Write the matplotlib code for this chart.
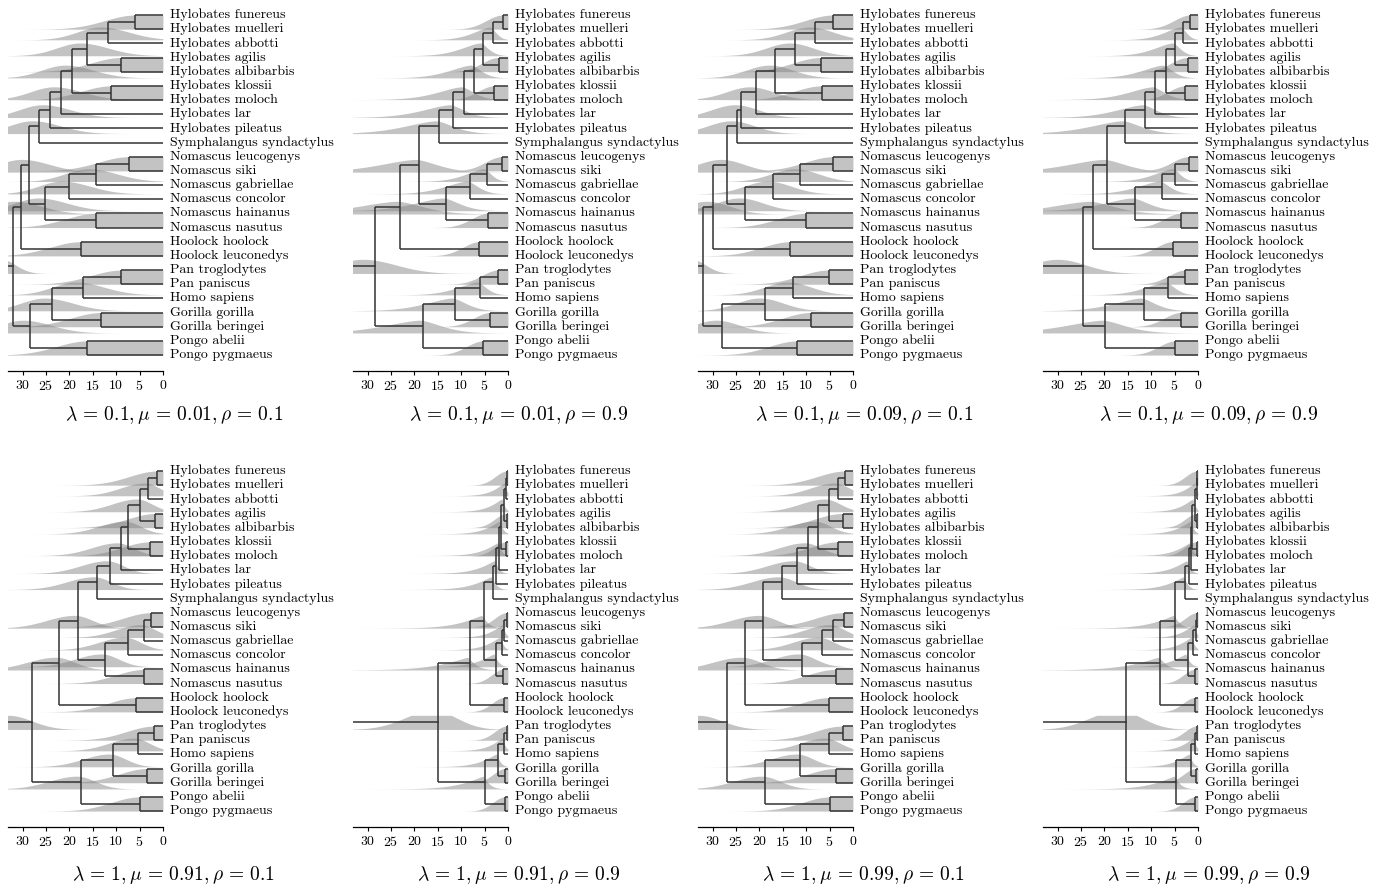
import numpy as np
import matplotlib
matplotlib.use("Agg")
import matplotlib.pyplot as plt

plt.rcParams['font.family'] = ['cmr10', 'DejaVu Serif']
plt.rcParams['mathtext.fontset'] = 'cm'
plt.rcParams['axes.formatter.use_mathtext'] = True

# tip labels, top to bottom
tips = ['Hylobates funereus', 'Hylobates muelleri', 'Hylobates abbotti', 'Hylobates agilis',
        'Hylobates albibarbis', 'Hylobates klossii', 'Hylobates moloch', 'Hylobates lar',
        'Hylobates pileatus', 'Symphalangus syndactylus', 'Nomascus leucogenys', 'Nomascus siki',
        'Nomascus gabriellae', 'Nomascus concolor', 'Nomascus hainanus', 'Nomascus nasutus',
        'Hoolock hoolock', 'Hoolock leuconedys', 'Pan troglodytes', 'Pan paniscus',
        'Homo sapiens', 'Gorilla gorilla', 'Gorilla beringei', 'Pongo abelii', 'Pongo pygmaeus']

# internal nodes (children are tip indices or node names)
nodes = [('A', 0, 1), ('B', 'A', 2), ('C', 3, 4), ('D', 'B', 'C'), ('E', 5, 6),
         ('F', 'D', 'E'), ('G', 'F', 7), ('H', 'G', 8), ('I', 'H', 9),
         ('J', 10, 11), ('K', 'J', 12), ('L', 'K', 13), ('M', 14, 15), ('N', 'L', 'M'),
         ('Q', 'I', 'N'), ('O', 16, 17), ('R', 'Q', 'O'),
         ('Pan', 18, 19), ('PanHomo', 'Pan', 20), ('Gor', 21, 22), ('HG', 'PanHomo', 'Gor'),
         ('Pongo', 23, 24), ('GA', 'HG', 'Pongo'), ('root', 'R', 'GA')]

# node ages (Myr) per panel, same order as nodes
ages_1 = [5.9, 11.8, 8.9, 16.2, 11.0, 19.4, 21.8, 24.2, 26.4, 7.3, 14.4, 20.1, 14.3, 25.1,
          28.7, 17.6, 30.3, 8.9, 17.1, 13.2, 23.8, 16.2, 28.4, 32.1]
ages_2 = [1.1, 3.2, 2.0, 5.3, 2.9, 7.3, 9.3, 11.8, 14.8, 1.3, 4.5, 8.1, 4.3, 13.2,
          19.1, 6.1, 23.0, 2.1, 5.9, 3.8, 11.3, 5.3, 18.2, 28.4]
ages_3 = [4.2, 8.0, 6.8, 12.3, 6.6, 16.6, 20.8, 24.0, 24.8, 4.2, 11.2, 17.0, 10.0, 23.0,
          27.0, 13.4, 30.0, 5.2, 12.7, 9.0, 18.7, 11.9, 28.0, 32.0]
ages_4 = [1.6, 3.1, 2.2, 4.8, 2.7, 6.9, 9.1, 11.2, 15.5, 2.0, 4.8, 7.6, 3.7, 13.4,
          19.5, 5.4, 22.5, 2.7, 6.3, 3.7, 11.6, 4.8, 19.8, 24.5]
ages_5 = [1.2, 3.1, 1.6, 4.8, 2.7, 7.4, 9.0, 11.2, 14.0, 2.5, 4.0, 7.4, 4.0, 12.3,
          18.1, 5.7, 22.1, 1.8, 5.4, 3.4, 10.7, 5.0, 17.6, 28.0]
ages_6 = [0.2, 0.4, 0.3, 0.9, 0.4, 1.4, 1.8, 2.5, 3.2, 0.3, 0.8, 1.3, 1.0, 2.6,
          5.2, 0.9, 8.2, 0.3, 0.8, 0.6, 2.1, 0.7, 4.9, 15.0]
ages_7 = [1.6, 3.1, 2.2, 5.2, 3.1, 7.4, 9.5, 11.9, 15.1, 2.0, 4.2, 6.6, 3.7, 10.8,
          19.3, 5.2, 23.0, 2.2, 5.2, 3.7, 11.2, 4.8, 18.7, 27.0]
ages_8 = [0.15, 0.3, 0.2, 0.7, 0.3, 1.2, 1.4, 2.0, 2.7, 0.2, 0.5, 1.0, 0.6, 2.2,
          4.8, 0.7, 8.0, 0.3, 0.6, 0.5, 1.5, 0.6, 4.7, 15.4]

lams = ['0.1', '0.1', '0.1', '0.1', '1', '1', '1', '1']
mus = ['0.01', '0.01', '0.09', '0.09', '0.91', '0.91', '0.99', '0.99']
rhos = ['0.1', '0.9', '0.1', '0.9', '0.1', '0.9', '0.1', '0.9']
panel_ages = [ages_1, ages_2, ages_3, ages_4, ages_5, ages_6, ages_7, ages_8]

# density shape read per panel: mode shift, old-side width (a + b*age), young-side width, exponent,
# cherry tail width, root (mode, old width, young width, peak)
shapes = [
    dict(shift=1.5, so=(5.0, 0.0), sy=(6.0, 0.0), p=2.0, sc=6.5, root=(34.5, 5, 3, 1.0)),
    dict(shift=0.6, so=(2.5, 0.25), sy=(0.5, 0.2), p=1.6, sc=3.5, root=(31, 6, 7, 1.0)),
    dict(shift=1.2, so=(5.0, 0.0), sy=(5.0, 0.0), p=2.0, sc=6.0, root=(34.5, 5, 3, 1.0)),
    dict(shift=0.6, so=(2.5, 0.25), sy=(0.5, 0.2), p=1.6, sc=3.5, root=(30, 6, 6, 1.0)),
    dict(shift=0.8, so=(5.0, 0.05), sy=(3.0, 0.05), p=2.0, sc=6.0, root=(33, 5, 5, 1.0)),
    dict(shift=0.4, so=(1.5, 0.3), sy=(0.3, 0.1), p=1.2, sc=2.5, root=(16, 6, 5, 1.35)),
    dict(shift=0.8, so=(5.0, 0.05), sy=(3.0, 0.05), p=2.0, sc=6.0, root=(33, 5, 5, 1.0)),
    dict(shift=0.4, so=(1.5, 0.3), sy=(0.3, 0.1), p=1.2, sc=2.5, root=(17, 6, 5, 1.35)),
]

W, H = 1386, 888
fig = plt.figure(figsize=(W / 100, H / 100), dpi=100)

px = 4.68           # pixels per Myr
row = 14.17         # pixels per tip
t = np.linspace(0, 34, 700)

for k in range(8):
    r, c = divmod(k, 4)
    x0 = 8 + 345 * c
    y_tip0 = 15 + 456 * r
    y_spine = 371 + 456 * r
    y_top = 0 + 456 * r
    ax = fig.add_axes([x0 / W, 1 - y_spine / H, 33.1 * px / W, (y_spine - y_top) / H])
    ax.set_xlim(33.1, 0)
    ax.set_ylim((y_spine - y_tip0) / row, (y_top - y_tip0) / row)

    ages = dict(zip([n[0] for n in nodes], panel_ages[k]))
    ypos = {}
    for n in nodes:
        name, a, b = n
        ya = a if isinstance(a, int) else ypos[a]
        yb = b if isinstance(b, int) else ypos[b]
        ypos[name] = (ya + yb) / 2

    sh = shapes[k]
    for name, a, b in nodes:
        age = ages[name]
        base = ypos[name] + 0.5
        if isinstance(a, int) and isinstance(b, int):
            h = np.where(t <= age, 1.0, np.exp(-0.5 * ((t - age) / sh['sc']) ** 2))
        elif name == 'root':
            m, so, sy, pk = sh['root']
            s = np.where(t > m, so, sy)
            h = pk * np.exp(-0.5 * np.abs((t - m) / s) ** 2)
        else:
            m = age + sh['shift']
            so = sh['so'][0] + sh['so'][1] * age
            sy = sh['sy'][0] + sh['sy'][1] * age
            s = np.where(t > m, so, sy)
            h = 0.9 * np.exp(-0.5 * np.abs((t - m) / s) ** sh['p'])
        h = np.minimum(h, 1.0)
        ax.fill_between(t, base, base - h, color='0.5', alpha=0.47, lw=0, zorder=1)

    lc = '0.2'
    for name, a, b in nodes:
        age = ages[name]
        ya = a if isinstance(a, int) else ypos[a]
        yb = b if isinstance(b, int) else ypos[b]
        ax.plot([age, age], [ya, yb], color=lc, lw=1.1, zorder=3, solid_capstyle='butt')
        for ch, yc in ((a, ya), (b, yb)):
            ca = 0.0 if isinstance(ch, int) else ages[ch]
            ax.plot([age, ca], [yc, yc], color=lc, lw=1.1, zorder=3, solid_capstyle='butt')
    ax.plot([ages['root'], 33.1], [ypos['root'], ypos['root']], color=lc, lw=1.1, zorder=3)

    for i, lab in enumerate(tips):
        ax.text(-1.45, i, lab, ha='left', va='center', fontsize=10, clip_on=False)

    for s in ['left', 'top', 'right']:
        ax.spines[s].set_visible(False)
    ax.spines['bottom'].set_linewidth(0.9)
    ax.set_yticks([])
    ax.set_xticks([30, 25, 20, 15, 10, 5, 0])
    ax.tick_params(axis='x', direction='out', length=3, width=0.8, labelsize=10, pad=3)
    ax.patch.set_alpha(0)

    title = (r'$\lambda\,=\,%s,\mu\,=\,%s,\rho\,=\,%s$' % (lams[k], mus[k], rhos[k]))
    fig.text((174 + 345 * c) / W, 1 - (415 + 460 * r) / H, title,
             ha='center', va='center', fontsize=14)

fig.savefig('out.png', dpi=100)
